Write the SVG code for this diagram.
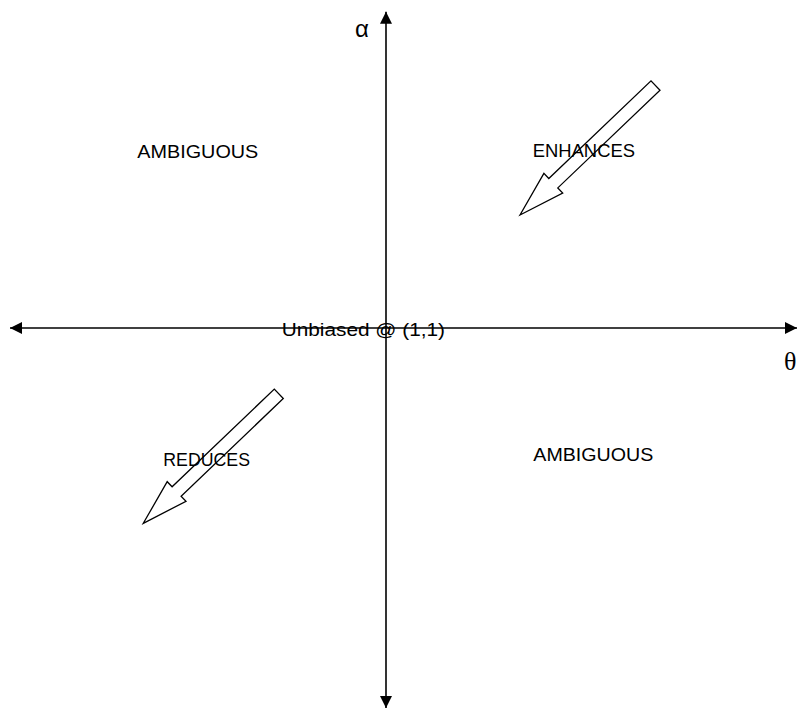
<svg xmlns="http://www.w3.org/2000/svg" width="798" height="709" viewBox="0 0 798 709">
  <style>
    .lbl { font-family: "Liberation Sans", Arial, sans-serif; font-size: 19px; fill: #000; }
    .axis { stroke: #000; stroke-width: 1.6; fill: none; }
    .bigarrow { fill: none; stroke: #000; stroke-width: 1.3; stroke-linejoin: miter; }
  </style>
  <defs>
    <marker id="ah" viewBox="0 0 12 12" refX="12" refY="6" markerWidth="12" markerHeight="12" markerUnits="userSpaceOnUse" orient="auto-start-reverse">
      <path d="M0,0 L12,6 L0,12 z" fill="#000"/>
    </marker>
    <polygon id="fat" points="0,0 23.9,-41.6 28.8,-36.5 131,-134.2 140,-124.8 37.8,-27.1 42.7,-22"/>
  </defs>
  <rect width="798" height="709" fill="#fff"/>

  <g id="lbl-ambig-tl"><text class="lbl" x="137.3" y="157.7" textLength="121" lengthAdjust="spacingAndGlyphs">AMBIGUOUS</text></g>
  <g id="lbl-enhances"><text class="lbl" x="532.7" y="157.3" textLength="102.3" lengthAdjust="spacingAndGlyphs">ENHANCES</text></g>
  <g id="lbl-ambig-br"><text class="lbl" x="533.3" y="461" textLength="120" lengthAdjust="spacingAndGlyphs">AMBIGUOUS</text></g>
  <g id="lbl-reduces"><text class="lbl" x="163.3" y="466" textLength="86.7" lengthAdjust="spacingAndGlyphs">REDUCES</text></g>
  <g id="lbl-unbiased"><text class="lbl" x="281.7" y="336" textLength="163.3" lengthAdjust="spacingAndGlyphs">Unbiased @ (1,1)</text></g>
  <g id="lbl-alpha"><text x="355" y="36.7" font-family="'Liberation Sans', Arial, sans-serif" font-size="24">α</text></g>
  <g id="lbl-theta"><text x="784" y="370" font-family="'Liberation Serif', 'Times New Roman', serif" font-size="26">θ</text></g>

  <g id="connectors">
    <line class="axis" x1="386" y1="708" x2="386" y2="11.7" marker-start="url(#ah)" marker-end="url(#ah)"/>
    <line class="axis" x1="10" y1="328" x2="797" y2="328" marker-start="url(#ah)" marker-end="url(#ah)"/>
  </g>

  <g id="arrow-enhances"><use href="#fat" class="bigarrow" transform="translate(520,215)"/></g>
  <g id="arrow-reduces"><use href="#fat" class="bigarrow" transform="translate(143.3,523.3)"/></g>
</svg>
